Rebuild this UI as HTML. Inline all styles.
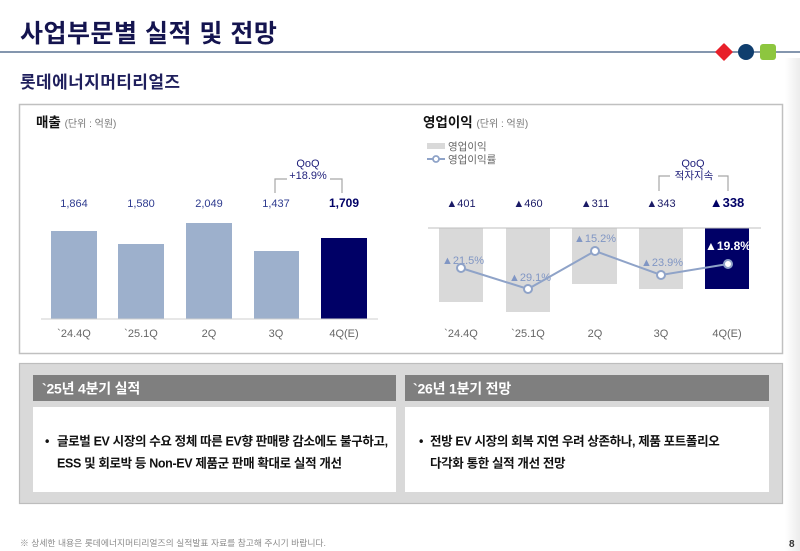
<!DOCTYPE html>
<html>
<head>
<meta charset="utf-8">
<style>
  html,body{margin:0;padding:0;background:#fff;}
  body{width:800px;height:551px;overflow:hidden;}
  svg{display:block;font-family:"Liberation Sans","Noto Sans CJK KR",sans-serif;}
</style>
</head>
<body>
<svg width="800" height="551" viewBox="0 0 800 551" xmlns="http://www.w3.org/2000/svg">
  <defs>
    <linearGradient id="edge" x1="0" y1="0" x2="1" y2="0">
      <stop offset="0" stop-color="#ffffff"/>
      <stop offset="1" stop-color="#ececec"/>
    </linearGradient>
  </defs>
  <rect x="0" y="0" width="800" height="551" fill="#fff"/>
  <rect x="785" y="58" width="15" height="493" fill="url(#edge)"/>

  <!-- Title -->
  <text x="20" y="42" font-size="25" font-weight="bold" fill="#14144f" letter-spacing="0.5">사업부문별 실적 및 전망</text>
  <line x1="0" y1="52" x2="800" y2="52" stroke="#5b7493" stroke-width="1.6"/>
  <polygon points="724,44 732,52 724,60 716,52" fill="#e8202a" stroke="#e8202a" stroke-width="1.5" stroke-linejoin="round"/>
  <circle cx="746" cy="52" r="8" fill="#0f3e6e"/>
  <rect x="760" y="44" width="16" height="16" rx="3" fill="#8dc63f"/>

  <!-- Subtitle -->
  <text x="20" y="88" font-size="17" font-weight="bold" fill="#1f1f5c" letter-spacing="0.4">롯데에너지머티리얼즈</text>

  <!-- Top panel -->
  <rect x="19.5" y="104.5" width="763" height="249" fill="#fff" stroke="#c0c0c0" stroke-width="1.5"/>

  <text x="36" y="127" font-size="13.5" font-weight="bold" fill="#111">매출 <tspan font-size="10" font-weight="normal" fill="#777">(단위 : 억원)</tspan></text>
  <text x="423" y="127" font-size="13.5" font-weight="bold" fill="#111">영업이익 <tspan font-size="10" font-weight="normal" fill="#777">(단위 : 억원)</tspan></text>

  <!-- Left chart -->
  <g>
    <rect x="51" y="231" width="46" height="88" fill="#9db0cc"/>
    <rect x="118" y="244" width="46" height="75" fill="#9db0cc"/>
    <rect x="186" y="223" width="46" height="96" fill="#9db0cc"/>
    <rect x="254" y="251" width="45" height="68" fill="#9db0cc"/>
    <rect x="321" y="238" width="46" height="81" fill="#000066"/>
    <line x1="41" y1="319" x2="378" y2="319" stroke="#cfcfcf" stroke-width="1"/>

    <g font-size="11" fill="#2e3b8f" text-anchor="middle">
      <text x="74" y="207">1,864</text>
      <text x="141" y="207">1,580</text>
      <text x="209" y="207">2,049</text>
      <text x="276" y="207">1,437</text>
    </g>
    <text x="344" y="207" font-size="12" font-weight="bold" fill="#000066" text-anchor="middle">1,709</text>

    <g font-size="11" fill="#666" text-anchor="middle">
      <text x="74" y="337">`24.4Q</text>
      <text x="141" y="337">`25.1Q</text>
      <text x="209" y="337">2Q</text>
      <text x="276" y="337">3Q</text>
      <text x="344" y="337">4Q(E)</text>
    </g>

    <text x="308" y="167" font-size="11" fill="#1f1f7a" text-anchor="middle">QoQ</text>
    <text x="308" y="179" font-size="11" fill="#1f1f7a" text-anchor="middle">+18.9%</text>
    <path d="M275,193 V179 H287 M330,179 H342 V193" fill="none" stroke="#a6a6a6" stroke-width="1.2"/>
  </g>

  <!-- Right chart -->
  <g>
    <rect x="427" y="143" width="18" height="6" fill="#d9d9d9"/>
    <text x="448" y="150" font-size="10.5" fill="#666">영업이익</text>
    <line x1="427" y1="159" x2="445" y2="159" stroke="#8fa3c8" stroke-width="2"/>
    <circle cx="436" cy="159" r="3" fill="#fff" stroke="#8fa3c8" stroke-width="1.8"/>
    <text x="448" y="163" font-size="10.5" fill="#666">영업이익률</text>

    <rect x="439" y="228" width="44" height="74" fill="#d9d9d9"/>
    <rect x="506" y="228" width="44" height="84" fill="#d9d9d9"/>
    <rect x="572" y="228" width="45" height="56" fill="#d9d9d9"/>
    <rect x="639" y="228" width="44" height="61" fill="#d9d9d9"/>
    <rect x="705" y="228" width="44" height="61" fill="#000066"/>
    <line x1="428" y1="228" x2="761" y2="228" stroke="#bfbfbf" stroke-width="1"/>

    <g font-size="11" fill="#8096c4" text-anchor="middle">
      <text x="463" y="264">▲21.5%</text>
      <text x="530" y="281">▲29.1%</text>
      <text x="595" y="242">▲15.2%</text>
      <text x="662" y="266">▲23.9%</text>
    </g>
    <text x="728" y="250" font-size="12" font-weight="bold" fill="#fff" text-anchor="middle">▲19.8%</text>

    <polyline points="461,268 528,289 595,251 661,275 728,264" fill="none" stroke="#8fa3c8" stroke-width="2"/>
    <g fill="#fff" stroke="#8fa3c8" stroke-width="2">
      <circle cx="461" cy="268" r="4"/>
      <circle cx="528" cy="289" r="4"/>
      <circle cx="595" cy="251" r="4"/>
      <circle cx="661" cy="275" r="4"/>
      <circle cx="728" cy="264" r="4"/>
    </g>

    <g font-size="11" fill="#1a1a66" text-anchor="middle">
      <text x="461" y="207">▲401</text>
      <text x="528" y="207">▲460</text>
      <text x="595" y="207">▲311</text>
      <text x="661" y="207">▲343</text>
    </g>
    <text x="727" y="207" font-size="13" font-weight="bold" fill="#000066" text-anchor="middle">▲338</text>

    <g font-size="11" fill="#666" text-anchor="middle">
      <text x="461" y="337">`24.4Q</text>
      <text x="528" y="337">`25.1Q</text>
      <text x="595" y="337">2Q</text>
      <text x="661" y="337">3Q</text>
      <text x="727" y="337">4Q(E)</text>
    </g>

    <text x="693" y="167" font-size="11" fill="#1f1f7a" text-anchor="middle">QoQ</text>
    <text x="694" y="179" font-size="10.5" fill="#1f1f7a" text-anchor="middle">적자지속</text>
    <path d="M659,191 V176 H670 M718,176 H728 V191" fill="none" stroke="#a6a6a6" stroke-width="1.2"/>
  </g>

  <!-- Bottom panel -->
  <rect x="19.5" y="363.5" width="763" height="140" fill="#d9d9d9" stroke="#bdbdbd" stroke-width="1.2"/>
  <rect x="33" y="375" width="363" height="26" fill="#7f7f7f"/>
  <rect x="33" y="407" width="363" height="85" fill="#fff"/>
  <rect x="405" y="375" width="364" height="26" fill="#7f7f7f"/>
  <rect x="405" y="407" width="364" height="85" fill="#fff"/>

  <text x="42" y="393.5" font-size="14" font-weight="bold" fill="#fff" letter-spacing="-0.2">`25년 4분기 실적</text>
  <text x="413" y="393.5" font-size="14" font-weight="bold" fill="#fff" letter-spacing="-0.2">`26년 1분기 전망</text>

  <g font-size="12.5" font-weight="bold" fill="#111" letter-spacing="-0.35">
    <text x="45" y="445.5">•</text>
    <text x="57" y="445.5">글로벌 EV 시장의 수요 정체 따른 EV향 판매량 감소에도 불구하고,</text>
    <text x="57" y="467.5">ESS 및 회로박 등 Non-EV 제품군 판매 확대로 실적 개선</text>
    <text x="419" y="445.5">•</text>
    <text x="430" y="445.5">전방 EV 시장의 회복 지연 우려 상존하나, 제품 포트폴리오</text>
    <text x="430" y="467.5">다각화 통한 실적 개선 전망</text>
  </g>

  <!-- Footer -->
  <text x="20" y="546" font-size="8.8" fill="#8c8c8c">※ 상세한 내용은 롯데에너지머티리얼즈의 실적발표 자료를 참고해 주시기 바랍니다.</text>
  <text x="789" y="547" font-size="10" font-weight="bold" fill="#333">8</text>
</svg>
</body>
</html>
